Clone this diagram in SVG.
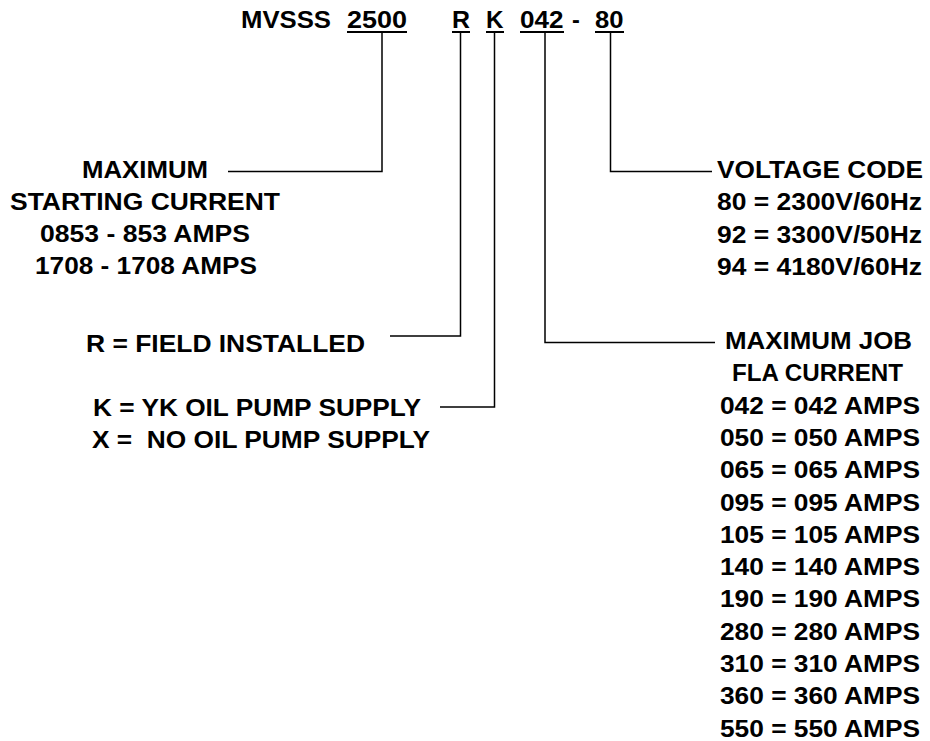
<svg xmlns="http://www.w3.org/2000/svg" width="930" height="741" viewBox="0 0 930 741">
<style>
text{font-family:"Liberation Sans",Arial,sans-serif;font-weight:bold;font-size:23.5px;fill:#000}
.u{stroke:#000;stroke-width:2}
.c{fill:none;stroke:#000;stroke-width:1.5}
.m{text-anchor:middle}
</style>
<rect width="930" height="741" fill="#fff"/>
<g id="title">
<text x="241" y="27.5" textLength="90" lengthAdjust="spacingAndGlyphs">MVSSS</text>
<text x="347" y="27.5" textLength="60" lengthAdjust="spacingAndGlyphs">2500</text>
<text x="452" y="27.5" textLength="18" lengthAdjust="spacingAndGlyphs">R</text>
<text x="486" y="27.5" textLength="17.5" lengthAdjust="spacingAndGlyphs">K</text>
<text x="520" y="27.5" textLength="43.5" lengthAdjust="spacingAndGlyphs">042</text>
<text x="572" y="27.5">-</text>
<text x="595" y="27.5" textLength="28.5" lengthAdjust="spacingAndGlyphs">80</text>
<line class="u" x1="347" y1="32" x2="407" y2="32"/>
<line class="u" x1="452" y1="32" x2="470" y2="32"/>
<line class="u" x1="486" y1="32" x2="504" y2="32"/>
<line class="u" x1="520" y1="32" x2="564" y2="32"/>
<line class="u" x1="595" y1="32" x2="624" y2="32"/>
</g>
<g id="connectors">
<polyline class="c" points="382,33 382,171.5 228,171.5"/>
<polyline class="c" points="610.5,33 610.5,171.5 712,171.5"/>
<polyline class="c" points="460.5,33 460.5,336 390,336"/>
<polyline class="c" points="494.5,33 494.5,407 440,407"/>
<polyline class="c" points="545,33 545,342.5 715,342.5"/>
</g>
<g id="starting-current">
<text class="m" x="145" y="177.5" textLength="126" lengthAdjust="spacingAndGlyphs">MAXIMUM</text>
<text class="m" x="145" y="209.5" textLength="270" lengthAdjust="spacingAndGlyphs">STARTING CURRENT</text>
<text class="m" x="145" y="242" textLength="210" lengthAdjust="spacingAndGlyphs">0853 - 853 AMPS</text>
<text class="m" x="146" y="274" textLength="222" lengthAdjust="spacingAndGlyphs">1708 - 1708 AMPS</text>
</g>
<g id="voltage-code">
<text x="717" y="177.5" textLength="206" lengthAdjust="spacingAndGlyphs">VOLTAGE CODE</text>
<text x="717" y="210" textLength="205" lengthAdjust="spacingAndGlyphs">80 = 2300V/60Hz</text>
<text x="717" y="242.5" textLength="205" lengthAdjust="spacingAndGlyphs">92 = 3300V/50Hz</text>
<text x="717" y="275" textLength="205" lengthAdjust="spacingAndGlyphs">94 = 4180V/60Hz</text>
</g>
<g id="field-installed">
<text x="86" y="351.5" textLength="279" lengthAdjust="spacingAndGlyphs">R = FIELD INSTALLED</text>
</g>
<g id="oil-pump">
<text x="93" y="416" textLength="328" lengthAdjust="spacingAndGlyphs">K = YK OIL PUMP SUPPLY</text>
<text x="92" y="448" textLength="338" lengthAdjust="spacingAndGlyphs" xml:space="preserve">X =  NO OIL PUMP SUPPLY</text>
</g>
<g id="fla-current">
<text x="725" y="349" textLength="187" lengthAdjust="spacingAndGlyphs">MAXIMUM JOB</text>
<text x="732" y="381.3" textLength="171" lengthAdjust="spacingAndGlyphs">FLA CURRENT</text>
<text x="720" y="413.6" textLength="200" lengthAdjust="spacingAndGlyphs">042 = 042 AMPS</text>
<text x="720" y="445.9" textLength="200" lengthAdjust="spacingAndGlyphs">050 = 050 AMPS</text>
<text x="720" y="478.2" textLength="200" lengthAdjust="spacingAndGlyphs">065 = 065 AMPS</text>
<text x="720" y="510.5" textLength="200" lengthAdjust="spacingAndGlyphs">095 = 095 AMPS</text>
<text x="720" y="542.8" textLength="200" lengthAdjust="spacingAndGlyphs">105 = 105 AMPS</text>
<text x="720" y="575.1" textLength="200" lengthAdjust="spacingAndGlyphs">140 = 140 AMPS</text>
<text x="720" y="607.4" textLength="200" lengthAdjust="spacingAndGlyphs">190 = 190 AMPS</text>
<text x="720" y="639.7" textLength="200" lengthAdjust="spacingAndGlyphs">280 = 280 AMPS</text>
<text x="720" y="672" textLength="200" lengthAdjust="spacingAndGlyphs">310 = 310 AMPS</text>
<text x="720" y="704.3" textLength="200" lengthAdjust="spacingAndGlyphs">360 = 360 AMPS</text>
<text x="720" y="736.6" textLength="200" lengthAdjust="spacingAndGlyphs">550 = 550 AMPS</text>
</g>
</svg>
